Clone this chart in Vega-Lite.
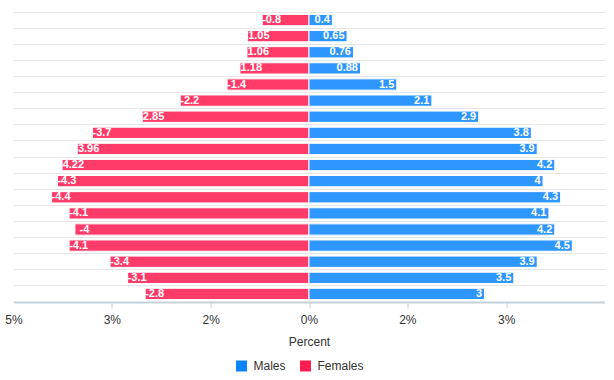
{
  "$schema": "https://vega.github.io/schema/vega-lite/v6.json",
  "width": 591,
  "height": 290,
  "padding": {"left": 4.5, "top": 12, "right": 10, "bottom": 5},
  "background": "white",
  "config": {"font": "Liberation Sans", "view": {"stroke": null}},
  "data": {
    "values": [
      {"age": "85+", "sex": "Females", "value": -0.8},
      {"age": "80-84", "sex": "Females", "value": -1.05},
      {"age": "75-79", "sex": "Females", "value": -1.06},
      {"age": "70-74", "sex": "Females", "value": -1.18},
      {"age": "65-69", "sex": "Females", "value": -1.4},
      {"age": "60-64", "sex": "Females", "value": -2.2},
      {"age": "55-59", "sex": "Females", "value": -2.85},
      {"age": "50-54", "sex": "Females", "value": -3.7},
      {"age": "45-49", "sex": "Females", "value": -3.96},
      {"age": "40-44", "sex": "Females", "value": -4.22},
      {"age": "35-39", "sex": "Females", "value": -4.3},
      {"age": "30-34", "sex": "Females", "value": -4.4},
      {"age": "25-29", "sex": "Females", "value": -4.1},
      {"age": "20-24", "sex": "Females", "value": -4},
      {"age": "15-19", "sex": "Females", "value": -4.1},
      {"age": "10-14", "sex": "Females", "value": -3.4},
      {"age": "5-9", "sex": "Females", "value": -3.1},
      {"age": "0-4", "sex": "Females", "value": -2.8},
      {"age": "85+", "sex": "Males", "value": 0.4},
      {"age": "80-84", "sex": "Males", "value": 0.65},
      {"age": "75-79", "sex": "Males", "value": 0.76},
      {"age": "70-74", "sex": "Males", "value": 0.88},
      {"age": "65-69", "sex": "Males", "value": 1.5},
      {"age": "60-64", "sex": "Males", "value": 2.1},
      {"age": "55-59", "sex": "Males", "value": 2.9},
      {"age": "50-54", "sex": "Males", "value": 3.8},
      {"age": "45-49", "sex": "Males", "value": 3.9},
      {"age": "40-44", "sex": "Males", "value": 4.2},
      {"age": "35-39", "sex": "Males", "value": 4},
      {"age": "30-34", "sex": "Males", "value": 4.3},
      {"age": "25-29", "sex": "Males", "value": 4.1},
      {"age": "20-24", "sex": "Males", "value": 4.2},
      {"age": "15-19", "sex": "Males", "value": 4.5},
      {"age": "10-14", "sex": "Males", "value": 3.9},
      {"age": "5-9", "sex": "Males", "value": 3.5},
      {"age": "0-4", "sex": "Males", "value": 3}
    ]
  },
  "encoding": {
    "y": {
      "field": "age",
      "type": "nominal",
      "sort": ["85+", "80-84", "75-79", "70-74", "65-69", "60-64", "55-59", "50-54", "45-49", "40-44", "35-39", "30-34", "25-29", "20-24", "15-19", "10-14", "5-9", "0-4"],
      "scale": {"paddingInner": 0, "paddingOuter": 0},
      "axis": {"title": null, "labels": false, "ticks": false, "domain": false, "grid": true, "gridColor": "#e6e6e6", "gridWidth": 1, "bandPosition": 0}
    },
    "x": {
      "field": "value",
      "type": "quantitative",
      "scale": {"domain": [-5.05, 5.05], "nice": false, "zero": false},
      "axis": {
        "title": "Percent",
        "values": [-5.05, -3.37, -1.68, 0, 1.68, 3.37],
        "labelExpr": "format(round(abs(datum.value)), 'd') + '%'",
        "labelFlush": false,
        "grid": false,
        "domainColor": "#c6d0d8",
        "domainWidth": 2,
        "tickColor": "#c6d0d8",
        "tickSize": 6,
        "tickWidth": 1,
        "tickOpacity": {"condition": {"test": "datum.value < -5", "value": 0}, "value": 1},
        "labelColor": "#333333",
        "labelFontSize": 12,
        "labelPadding": 6,
        "titleFontSize": 12,
        "titleFontWeight": "normal",
        "titleColor": "#333333",
        "titlePadding": 11
      }
    }
  },
  "layer": [
    {
      "mark": {"type": "bar", "height": {"band": 0.7}, "opacity": 0.85, "stroke": "white", "strokeWidth": 1},
      "encoding": {
        "color": {
          "field": "sex",
          "type": "nominal",
          "scale": {"domain": ["Males", "Females"], "range": ["#0a84ff", "#ff1a50"]},
          "legend": {
            "title": null,
            "orient": "none",
            "legendX": 222,
            "legendY": 348,
            "direction": "horizontal",
            "symbolType": "square",
            "symbolSize": 121,
            "symbolOpacity": 1,
            "symbolStrokeWidth": 0,
            "labelFontSize": 12,
            "labelColor": "#333333",
            "labelOffset": 6,
            "columnPadding": 13,
            "padding": 0
          }
        }
      }
    },
    {
      "transform": [{"filter": "datum.sex == 'Males'"}],
      "mark": {"type": "text", "align": "right", "dx": -2.5, "baseline": "middle", "color": "white", "fontSize": 11, "fontWeight": "bold"},
      "encoding": {"text": {"field": "value", "type": "nominal"}}
    },
    {
      "transform": [{"filter": "datum.sex == 'Females'"}],
      "mark": {"type": "text", "align": "center", "dx": 9.5, "baseline": "middle", "color": "white", "fontSize": 11, "fontWeight": "bold"},
      "encoding": {"text": {"field": "value", "type": "nominal"}}
    }
  ]
}
